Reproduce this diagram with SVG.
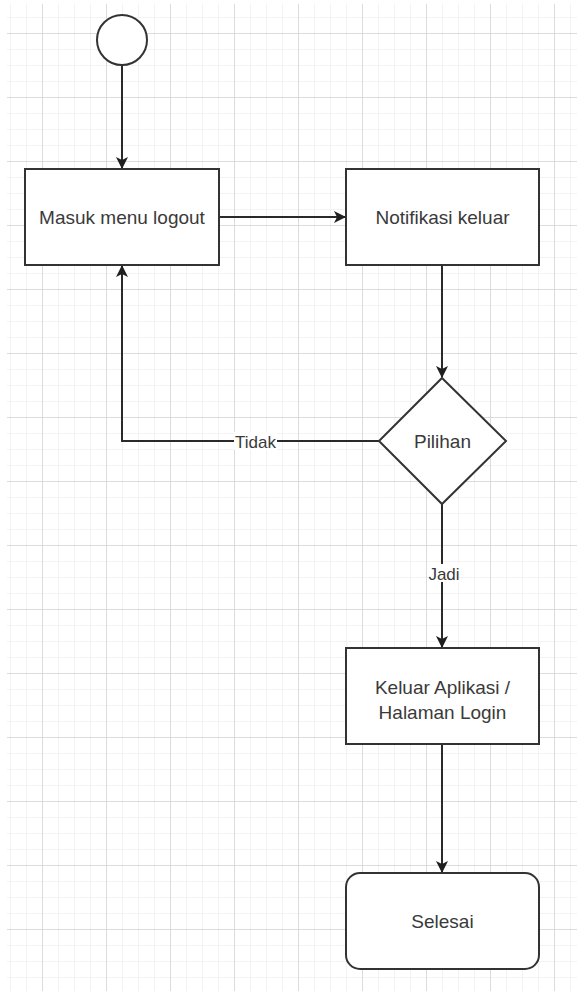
<svg xmlns="http://www.w3.org/2000/svg" width="577" height="991" viewBox="0 0 577 991">
  <style>
    .shape { fill: #ffffff; stroke: #333333; stroke-width: 2; }
    .edge { fill: none; stroke: #2a2a2a; stroke-width: 2; }
    .label { font-family: "Liberation Sans", Arial, sans-serif; font-size: 19px; fill: #3a3a3a; text-anchor: middle; dominant-baseline: central; }
    .elabel { font-family: "Liberation Sans", Arial, sans-serif; font-size: 17px; fill: #3a3a3a; text-anchor: middle; dominant-baseline: central; }
  </style>
  <defs>
    <pattern id="grid" x="42" y="33" width="64" height="64" patternUnits="userSpaceOnUse">
      <path d="M16.5 0V64M32.5 0V64M48.5 0V64M0 16.5H64M0 32.5H64M0 48.5H64" stroke="#f3f3f3" stroke-width="1" fill="none"/>
      <path d="M0.5 0V64M0 0.5H64" stroke="#dcdcdc" stroke-width="1" fill="none"/>
    </pattern>
    <marker id="arrow" viewBox="0 0 12 12" refX="11" refY="6" markerWidth="12" markerHeight="12" markerUnits="userSpaceOnUse" orient="auto">
      <path d="M0 0L12 6L0 12L3 6Z" fill="#1f1f1f"/>
    </marker>
  </defs>

  <!-- canvas background with grid -->
  <rect width="577" height="991" fill="#ffffff"/>
  <rect x="7" y="4" width="570" height="987" fill="url(#grid)"/>

  <!-- connectors -->
  <g id="connectors">
    <path class="edge" d="M122 65V168" marker-end="url(#arrow)"/>
    <path class="edge" d="M219 217H345" marker-end="url(#arrow)"/>
    <path class="edge" d="M442 265V377" marker-end="url(#arrow)"/>
    <path class="edge" d="M379 441H122V266" marker-end="url(#arrow)"/>
    <path class="edge" d="M442 504V647" marker-end="url(#arrow)"/>
    <path class="edge" d="M442 744V872" marker-end="url(#arrow)"/>
    <g id="label-tidak">
      <rect x="234" y="432" width="43" height="18" fill="#ffffff"/>
      <text class="elabel" x="255.5" y="442">Tidak</text>
    </g>
    <g id="label-jadi">
      <rect x="428" y="564" width="31" height="18" fill="#ffffff"/>
      <text class="elabel" x="444" y="574">Jadi</text>
    </g>
  </g>

  <!-- start -->
  <g id="start">
    <circle class="shape" cx="122" cy="40" r="25"/>
  </g>

  <g id="masuk-menu-logout">
    <rect class="shape" x="25" y="169" width="194" height="96"/>
    <text class="label" x="122" y="217">Masuk menu logout</text>
  </g>

  <g id="notifikasi-keluar">
    <rect class="shape" x="346" y="169" width="193" height="96"/>
    <text class="label" x="442.5" y="217">Notifikasi keluar</text>
  </g>

  <g id="pilihan">
    <polygon class="shape" points="442,378 506,441 442,504 379,441"/>
    <text class="label" x="442.5" y="441">Pilihan</text>
  </g>

  <g id="keluar-aplikasi">
    <rect class="shape" x="346" y="648" width="193" height="96"/>
    <text class="label" x="442.5" y="687">Keluar Aplikasi /</text>
    <text class="label" x="442.5" y="712">Halaman Login</text>
  </g>

  <g id="selesai">
    <rect class="shape" x="346" y="873" width="193" height="96" rx="14" ry="14"/>
    <text class="label" x="442.5" y="921">Selesai</text>
  </g>
</svg>
